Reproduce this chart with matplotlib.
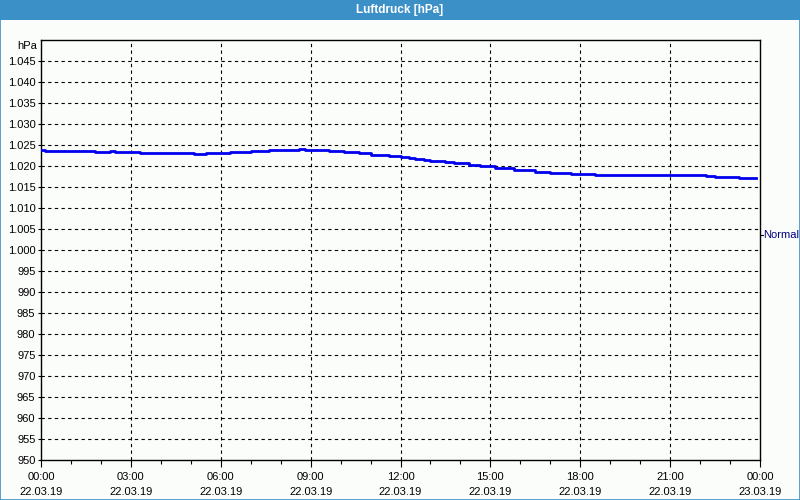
import matplotlib
matplotlib.use("Agg")
import matplotlib.pyplot as plt
from matplotlib.patches import Rectangle
from matplotlib.ticker import FixedLocator, MultipleLocator

# ---- data ----
hours = [0.0, 0.13, 1.8, 2.3, 2.47, 3.3, 5.1, 5.5, 6.3, 7.0, 7.6, 8.6, 8.8, 9.6,
         10.1, 10.6, 11.0, 11.6, 12.0, 12.3, 12.5, 12.8, 13.0, 13.5, 13.8, 14.3,
         14.65, 15.15, 15.8, 16.5, 17.0, 17.7, 18.5, 22.2, 22.5, 23.3, 23.87]
pressure = [1023.8, 1023.6, 1023.3, 1023.6, 1023.3, 1023.1, 1022.9, 1023.1, 1023.3,
            1023.6, 1023.8, 1024.0, 1023.7, 1023.5, 1023.3, 1023.0, 1022.7, 1022.5,
            1022.2, 1022.0, 1021.7, 1021.5, 1021.3, 1020.9, 1020.6, 1020.3, 1020.0,
            1019.6, 1019.1, 1018.6, 1018.4, 1018.2, 1017.9, 1017.7, 1017.5, 1017.2,
            1017.2]
x_tick_hours = [0, 3, 6, 9, 12, 15, 18, 21, 24]
x_tick_times = ["00:00", "03:00", "06:00", "09:00", "12:00", "15:00", "18:00", "21:00", "00:00"]
x_tick_dates = ["22.03.19"] * 8 + ["23.03.19"]
y_ticks = list(range(950, 1050, 5))
normal_value = 1003.5
title = "Luftdruck [hPa]"
unit = "hPa"

FONT = ["Liberation Sans", "DejaVu Sans"]
plt.rcParams['font.family'] = FONT

fig = plt.figure(figsize=(8, 5), dpi=100)
fig.patch.set_facecolor("#fbfdfb")

# title bar & frame
fig.patches.append(Rectangle((0, 0.96), 1, 0.04, transform=fig.transFigure,
                             facecolor="#3c90c8", edgecolor="none", zorder=0))
fig.patches.append(Rectangle((0.0006, 0.001), 0.9988, 0.998, transform=fig.transFigure,
                             facecolor="none", edgecolor="#3c90c8", linewidth=1.2, zorder=5))
fig.text(0.5, 0.98, title, color="white", fontsize=8.5, fontweight="bold",
         ha="center", va="center")

ax = fig.add_axes([41/800, 40/500, 719/800, 420/500])
ax.set_facecolor("#fbfdfb")
ax.plot(hours, pressure, drawstyle="steps-post", color="#0000ee", linewidth=2.0, zorder=3)

ax.set_xlim(0, 24)
ax.set_ylim(950, 1050)

ax.xaxis.set_major_locator(FixedLocator(x_tick_hours))
ax.xaxis.set_minor_locator(MultipleLocator(1))
ax.set_xticks(x_tick_hours)
ax.set_xticklabels([f"{t}\n{d}" for t, d in zip(x_tick_times, x_tick_dates)],
                   fontsize=8, linespacing=1.55)
ax.set_yticks(y_ticks)
ax.set_yticklabels([f"{v/1000:.3f}" if v >= 1000 else f"{v}" for v in y_ticks], fontsize=8)

ax.tick_params(axis="x", which="major", length=5, width=0.8, pad=4)
ax.tick_params(axis="x", which="minor", length=3, width=0.8)
ax.tick_params(axis="y", which="major", length=2, width=0.8, pad=2)

for y in y_ticks[1:]:
    ax.axhline(y, color="black", linestyle=(0, (3, 3)), linewidth=0.8, zorder=1)
for x in x_tick_hours[1:-1]:
    ax.axvline(x, color="black", linestyle=(0, (3, 3)), linewidth=0.8, zorder=1)

for s in ax.spines.values():
    s.set_color("black")
    s.set_linewidth(1.0)

ax.text(-0.006, 1.0 - 6/420, unit, transform=ax.transAxes, ha="right", va="center", fontsize=8)

# Normal marker on right
ax.plot([1.0, 1.004], [normal_value, normal_value], transform=ax.get_yaxis_transform(),
        color="black", linewidth=0.8, clip_on=False)
ax.text(1.005, normal_value, "Normal", transform=ax.get_yaxis_transform(),
        ha="left", va="center", fontsize=8, color="#000080")

fig.savefig("out.png", dpi=100, facecolor=fig.get_facecolor())
